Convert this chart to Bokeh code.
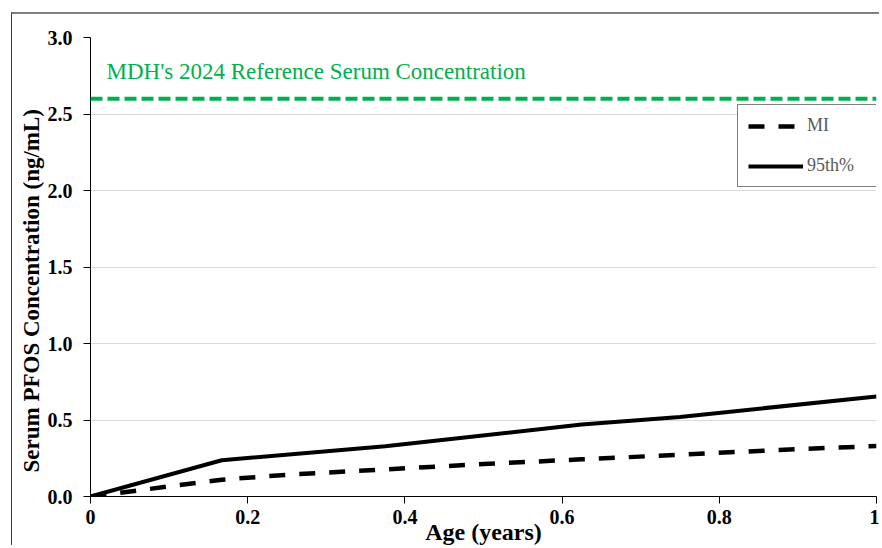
import math
from bokeh.plotting import figure
from bokeh.models import (Span, Label, Legend, LegendItem, FixedTicker, ColumnDataSource, Title)
from bokeh.embed import file_html
from bokeh.resources import INLINE

# ---- data ----
age_95 = [0.0, 0.167, 0.375, 0.625, 0.75, 1.0]
serum_95 = [0.0, 0.237, 0.328, 0.47, 0.52, 0.654]

age_mi = [0.0, 0.167, 0.25, 0.375, 0.5, 0.625, 0.75, 0.875, 1.0]
serum_mi = [0.0, 0.11, 0.142, 0.177, 0.212, 0.243, 0.273, 0.304, 0.33]

reference_value = 2.6
reference_label = "MDH's 2024 Reference Serum Concentration"

x_ticks = [0, 0.2, 0.4, 0.6, 0.8, 1]
x_tick_labels = ["0", "0.2", "0.4", "0.6", "0.8", "1"]
y_ticks = [0, 0.5, 1.0, 1.5, 2.0, 2.5, 3.0]
y_tick_labels = ["0.0", "0.5", "1.0", "1.5", "2.0", "2.5", "3.0"]

x_title = "Age (years)"
y_title = "Serum PFOS Concentration (ng/mL)"
series_names = ["MI", "95th%"]

SERIF = "Liberation Serif"
GREEN = "#00B050"

p = figure(width=868, height=533, x_range=(0, 1), y_range=(0, 3),
           output_backend="svg", toolbar_location=None,
           min_border_left=78, min_border_right=4, min_border_top=23, min_border_bottom=50)
p.margin = (12, 0, 0, 11)
p.styles = {"border-left": "1px solid #404040", "border-top": "2px solid #808080"}
p.outline_line_color = None
p.background_fill_color = "white"
p.border_fill_color = "white"

# axes
for ax in (p.xaxis[0], p.yaxis[0]):
    ax.axis_line_color = "black"
    ax.axis_line_width = 1
    ax.major_tick_line_color = "black"
    ax.major_tick_in = 0
    ax.major_tick_out = 7
    ax.minor_tick_line_color = None
    ax.major_label_text_font = SERIF
    ax.major_label_text_font_style = "bold"
    ax.major_label_text_font_size = "20px"
    ax.major_label_text_color = "black"

p.xaxis.ticker = FixedTicker(ticks=x_ticks)
p.xaxis.major_label_overrides = {t: l for t, l in zip(x_ticks, x_tick_labels)}
p.xaxis.major_label_standoff = 6
p.yaxis.ticker = FixedTicker(ticks=y_ticks)
p.yaxis.major_label_overrides = {t: l for t, l in zip(y_ticks, y_tick_labels)}
p.yaxis.major_label_standoff = 11

# x axis title, tucked close to the tick labels as in the reference
p.xaxis.axis_label = x_title
p.xaxis.axis_label_text_font = SERIF
p.xaxis.axis_label_text_font_style = "bold"
p.xaxis.axis_label_text_font_size = "24px"
p.xaxis.axis_label_text_color = "black"
p.xaxis.axis_label_standoff = -8

# y axis title: a side title so it can sit lower than the frame centre
ytitle = Title(text=y_title, align="left", offset=24, standoff=2,
               text_font=SERIF, text_font_style="bold", text_font_size="23px",
               text_color="black")
p.add_layout(ytitle, "left")

p.xgrid.grid_line_color = None
p.ygrid.grid_line_color = "#d9d9d9"
p.ygrid.grid_line_width = 1

# reference line
p.add_layout(Span(location=reference_value, dimension="width", line_color=GREEN,
                  line_width=4, line_dash="12 5"))
p.add_layout(Label(x=16, y=425, x_units="screen", y_units="screen", text=reference_label,
                   text_font=SERIF, text_font_size="23px", text_color=GREEN,
                   text_baseline="middle", text_align="left"))

# series
src_mi = ColumnDataSource(dict(x=age_mi, y=serum_mi))
src_95 = ColumnDataSource(dict(x=age_95, y=serum_95))
r_mi = p.line("x", "y", source=src_mi, line_color="black", line_width=4.5,
              line_dash="16 14")
r_95 = p.line("x", "y", source=src_95, line_color="black", line_width=4)

legend = Legend(items=[LegendItem(label=series_names[0], renderers=[r_mi]),
                       LegendItem(label=series_names[1], renderers=[r_95])],
                location=(647, 309))
legend.border_line_color = "black"
legend.border_line_width = 1
legend.background_fill_color = "white"
legend.background_fill_alpha = 1
legend.padding = 10
legend.spacing = 19
legend.label_height = 18
legend.glyph_height = 18
legend.glyph_width = 55
legend.label_standoff = 4
legend.label_width = 63
legend.margin = 0
legend.label_text_font = SERIF
legend.label_text_font_size = "18px"
legend.label_text_color = "#595959"
p.add_layout(legend, "center")

open("out.html", "w").write(file_html(p, INLINE))
